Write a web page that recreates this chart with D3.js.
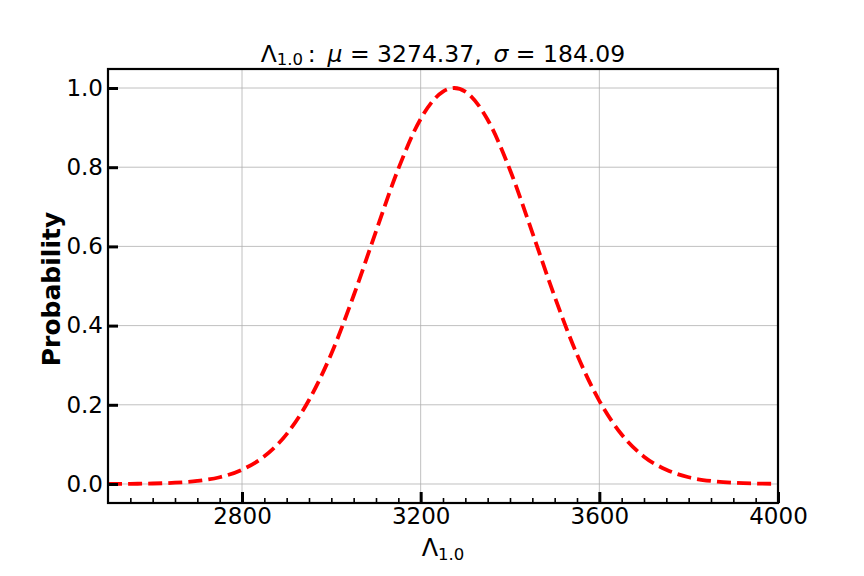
<!DOCTYPE html>
<html>
<head>
<meta charset="utf-8" />
<title>Lambda distribution</title>
<script src="https://d3js.org/d3.v7.min.js"></script>
<style>
	body { margin: 0; background: #fff; }
	text { font-family: "DejaVu Sans", sans-serif; fill: #000; }
</style>
</head>
<body>
<script>
// values
const lambdaVals = [2500, 2550, 2600, 2650, 2700, 2750, 2800, 2850, 2900, 2950,
	3000, 3050, 3100, 3150, 3200, 3250, 3275, 3300, 3350, 3400, 3450,
	3500, 3550, 3600, 3650, 3700, 3750, 3800, 3850, 3900, 3950, 4000];
const probVals = [0.0001, 0.0004, 0.0012, 0.0032, 0.0077, 0.017, 0.036, 0.070, 0.126, 0.212,
	0.329, 0.476, 0.638, 0.796, 0.922, 0.991, 1.0, 0.991, 0.920, 0.793, 0.635,
	0.473, 0.327, 0.210, 0.125, 0.069, 0.036, 0.017, 0.0076, 0.0031, 0.0012, 0.0004];
const xTicks = [2800, 3200, 3600, 4000];
const xMinor = d3.range(2550, 4000, 50).filter(v => !xTicks.includes(v));
const yTicks = [0.0, 0.2, 0.4, 0.6, 0.8, 1.0];

const width = 864, height = 576;
const axLeft = 108, axRight = 778, axTop = 69, axBottom = 503;

const svg = d3.select("body").append("svg")
	.attr("width", width)
	.attr("height", height);

const x = d3.scaleLinear().domain([2500, 4000]).range([axLeft, axRight]);
const y = d3.scaleLinear().domain([-0.048, 1.048]).range([axBottom, axTop]);

svg.append("clipPath").attr("id", "clip")
	.append("rect")
	.attr("x", axLeft).attr("y", axTop)
	.attr("width", axRight - axLeft).attr("height", axBottom - axTop);

// grid
svg.append("g").selectAll("line")
	.data(xTicks)
	.join("line")
	.attr("x1", d => x(d)).attr("x2", d => x(d))
	.attr("y1", axTop).attr("y2", axBottom)
	.attr("stroke", "#b0b0b0").attr("stroke-width", 0.8);
svg.append("g").selectAll("line")
	.data(yTicks)
	.join("line")
	.attr("x1", axLeft).attr("x2", axRight)
	.attr("y1", d => y(d)).attr("y2", d => y(d))
	.attr("stroke", "#b0b0b0").attr("stroke-width", 0.8);

// curve
const line = d3.line()
	.x((d, i) => x(lambdaVals[i]))
	.y(d => y(d))
	.curve(d3.curveMonotoneX);

svg.append("path")
	.datum(probVals)
	.attr("clip-path", "url(#clip)")
	.attr("d", line)
	.attr("fill", "none")
	.attr("stroke", "#ff0000")
	.attr("stroke-width", 3.8)
	.attr("stroke-dasharray", "14,6.1");

// ticks (inward)
const xAxis = d3.axisBottom(x).tickValues(xTicks).tickSize(-11).tickPadding(5)
	.tickFormat(d3.format("d"));
const gx = svg.append("g").attr("transform", `translate(0,${axBottom})`).call(xAxis);
gx.select(".domain").remove();
gx.selectAll(".tick line").attr("stroke-width", 3);
gx.selectAll("text").attr("font-size", 23);

const gxm = svg.append("g").attr("transform", `translate(0,${axBottom})`)
	.call(d3.axisBottom(x).tickValues(xMinor).tickSize(-5).tickFormat(""));
gxm.select(".domain").remove();
gxm.selectAll(".tick line").attr("stroke-width", 1.6);

const yAxis = d3.axisLeft(y).tickValues(yTicks).tickSize(-10).tickPadding(5)
	.tickFormat(d3.format(".1f"));
const gy = svg.append("g").attr("transform", `translate(${axLeft},0)`).call(yAxis);
gy.select(".domain").remove();
gy.selectAll(".tick line").attr("stroke-width", 3);
gy.selectAll("text").attr("font-size", 23);

// frame
svg.append("rect")
	.attr("x", axLeft).attr("y", axTop)
	.attr("width", axRight - axLeft).attr("height", axBottom - axTop)
	.attr("fill", "none").attr("stroke", "#000").attr("stroke-width", 2.2);

// title
const title = svg.append("text")
	.attr("x", (axLeft + axRight) / 2).attr("y", 62)
	.attr("text-anchor", "middle")
	.attr("font-size", 23.5);
title.append("tspan").text("Λ");
title.append("tspan").attr("font-size", 16.5).attr("dy", 3).text("1.0");
title.append("tspan").attr("dy", -3).text("\u2009:\u2002");
title.append("tspan").attr("font-style", "italic").text("μ");
title.append("tspan").text(" = 3274.37,\u2002");
title.append("tspan").attr("font-style", "italic").text("σ");
title.append("tspan").text(" = 184.09");

// x label
const xl = svg.append("text")
	.attr("x", (axLeft + axRight) / 2).attr("y", 556)
	.attr("text-anchor", "middle")
	.attr("font-size", 24);
xl.append("tspan").text("Λ");
xl.append("tspan").attr("font-size", 16.5).attr("dy", 4).text("1.0");

// y label
svg.append("text")
	.attr("transform", `translate(60,289) rotate(-90)`)
	.attr("text-anchor", "middle")
	.attr("font-size", 25)
	.attr("font-weight", "bold")
	.text("Probability");
</script>
</body>
</html>
